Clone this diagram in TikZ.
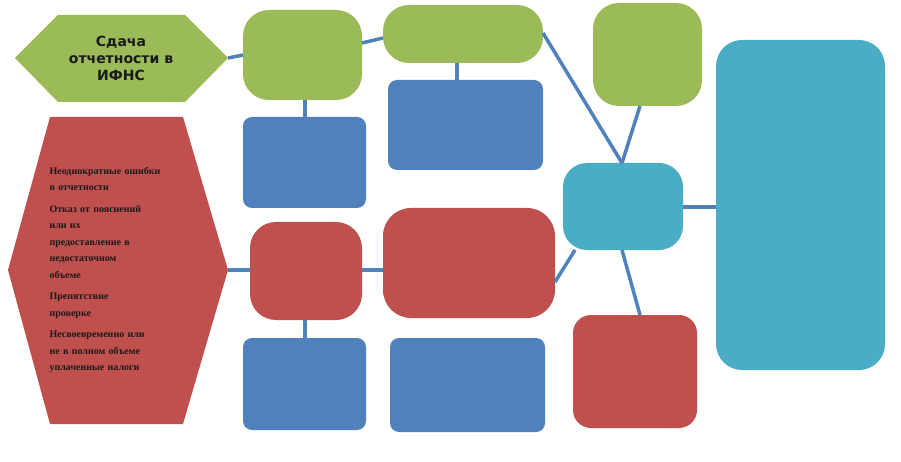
\documentclass[tikz,border=0pt]{standalone}
\usepackage{fontspec}
\setmainfont{Liberation Serif}
\newfontfamily\vs{DejaVu Sans}
\usetikzlibrary{shapes.geometric}
\definecolor{gr}{HTML}{9BBB59}
\definecolor{bl}{HTML}{4F81BD}
\definecolor{rd}{HTML}{C0504D}
\definecolor{tl}{HTML}{4BACC6}
\definecolor{tx}{HTML}{1A1A1A}
\tikzset{
 box/.style={rounded corners=#1,text=tx,align=center,font=\bfseries},
 link/.style={draw=bl,line width=3.5pt},
 sv/.style={font=\vs\bfseries},
}
\begin{document}
\begin{tikzpicture}[x=1pt,y=-1pt]
\useasboundingbox (0,0) rectangle (901,462);
% hexagons
\fill[gr] (15,58) -- (58,15) -- (185,15) -- (228,58) -- (185,102) -- (58,102) -- cycle;
\node[sv,text=tx,align=center,font=\vs\bfseries\fontsize{14}{17}\selectfont] (hex1) at (121,58) {Сдача\\отчетности в\\ИФНС};
\coordinate (hex1r) at (228,58);
\fill[rd] (8,270) -- (50,117) -- (183,117) -- (228,270) -- (183,424) -- (50,424) -- cycle;
\node[text=tx,align=left,text width=150pt,font=\bfseries\fontsize{10}{16.5}\selectfont,anchor=west] (hex2) at (46,270) {Неоднократные ошибки\\в отчетности\\[5pt]Отказ от пояснений\\или их\\предоставление в\\недостаточном\\объеме\\[5pt]Препятствие\\проверке\\[5pt]Несвоевременно или\\не в полном объеме\\уплаченные налоги};
\coordinate (hex2r) at (228,270);
% boxes
\newcommand\bx[6]{\fill[#2,rounded corners=#3] (#4) rectangle (#5);}
\bx{}{gr}{26pt}{243,10}{362,100}
\node[box=0,font=\bfseries\fontsize{12}{19}\selectfont] (kam) at (302.5,55) {Камеральная\\налоговая\\проверка};
\bx{}{gr}{26pt}{383,5}{543,63}
\node[box=0,font=\vs\bfseries\fontsize{12.5}{15}\selectfont] (ter1) at (463,34) {На территории\\ИФНС};
\bx{}{bl}{9pt}{388,80}{543,170}
\node[box=0,font=\bfseries\fontsize{11}{18}\selectfont] (ist1) at (465.5,125) {Истребуют копии\\документов при\\необходимости\\пояснений};
\bx{}{bl}{9pt}{243,117}{366,208}
\node[box=0,font=\vs\bfseries\fontsize{13}{17}\selectfont] (dl1) at (304.5,162.5) {Длится до\\3 месяцев с\\даты\\получения};
\bx{}{gr}{26pt}{593,3}{702,106}
\node[box=0,font=\vs\bfseries\fontsize{9.5}{16}\selectfont] (d15) at (647.5,54) {В течение\\15 дней\\после\\окончания};
\bx{}{tl}{24pt}{563,163}{683,250}
\node[box=0,font=\vs\bfseries\fontsize{10.5}{16}\selectfont] (akt) at (623,206) {Акт по\\итогам\\проверки};
\bx{}{tl}{26pt}{716,40}{885,370}
\node[box=0,font=\vs\bfseries\fontsize{13}{18.5}\selectfont] (big) at (800.5,205) {После\\получения акта\\у\\налогоплатель\\щика есть\\месяц для\\предоставления\\возражений по\\итогам\\проверки};
\bx{}{rd}{26pt}{250,222}{362,320}
\node[box=0,font=\bfseries\fontsize{12}{18}\selectfont] (vyez) at (306,271) {Выездная\\налоговая\\проверка};
\bx{}{rd}{28pt}{383,208}{555,318}
\node[box=0,font=\bfseries\fontsize{11}{16.5}\selectfont] (ter2) at (469,262) {На территории\\плательщика, но при\\отсутствии помещений -\\в ИФНС};
\bx{}{bl}{9pt}{243,338}{366,430}
\node[box=0,font=\bfseries\fontsize{12}{17.5}\selectfont] (dl2) at (304.5,384) {Длится от 2 до\\6 месяцев (от\\1 месяца для\\филиалов)};
\bx{}{bl}{9pt}{390,338}{545,432}
\node[box=0,font=\bfseries\fontsize{11}{17.5}\selectfont] (ist2) at (467.5,385) {Истребуют оригиналы\\документов при\\необходимости\\пояснений};
\bx{}{rd}{18pt}{573,315}{697,428}
\node[box=0,font=\vs\bfseries\fontsize{12}{18}\selectfont] (d2m) at (635,371.5) {В течение\\2 месяцев и\\5 дней после\\окончания};
% connector coordinates
\coordinate (kamL) at (243,55); \coordinate (kamR) at (362,43); \coordinate (kamB) at (305,100);
\coordinate (ter1L) at (383,38); \coordinate (ter1R) at (543,33); \coordinate (ter1B) at (457,63);
\coordinate (ist1T) at (457,80); \coordinate (dl1T) at (305,117);
\coordinate (d15B) at (640,106); \coordinate (aktT) at (622,163);
\coordinate (aktR) at (683,207); \coordinate (bigL) at (716,207);
\coordinate (aktL) at (575,250); \coordinate (aktB) at (622,250);
\coordinate (vyL) at (250,270); \coordinate (vyR) at (362,270); \coordinate (vyB) at (305,320);
\coordinate (ter2L) at (383,270); \coordinate (ter2R) at (555,282);
\coordinate (dl2T) at (305,338); \coordinate (d2mT) at (640,315);
\begin{scope}[line width=3.5pt,draw=bl]
\draw[link] (hex1r) -- (kamL);
\draw[link] (kamR) -- (ter1L);
\draw[link] (dl1T) -- (kamB);
\draw[link] (ist1T) -- (ter1B);
\draw[link] (ter1R) -- (aktT);
\draw[link] (d15B) -- (aktT);
\draw[link] (aktR) -- (bigL);
\draw[link] (hex2r) -- (vyL);
\draw[link] (vyR) -- (ter2L);
\draw[link] (ter2R) -- (aktL);
\draw[link] (aktB) -- (d2mT);
\draw[link] (dl2T) -- (vyB);
\end{scope}
\end{tikzpicture}
\end{document}
